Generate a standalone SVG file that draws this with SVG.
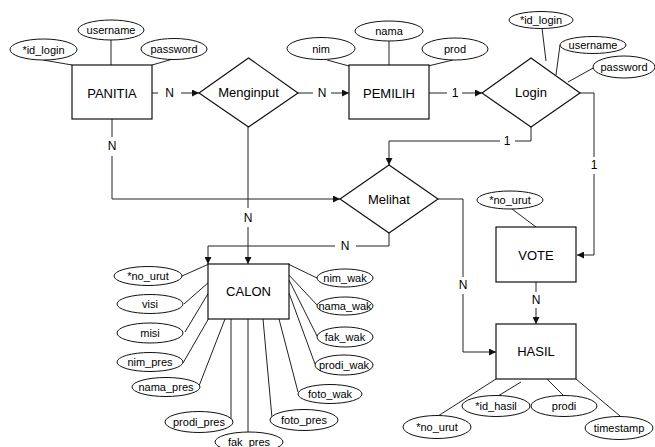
<svg xmlns="http://www.w3.org/2000/svg" width="655" height="447" viewBox="0 0 655 447">
<defs>
<style>
.ent{fill:#fff;stroke:#111;stroke-width:1.2}
.rel{fill:#fff;stroke:#111;stroke-width:1.2}
.att{fill:#fff;stroke:#111;stroke-width:1}
.ln{fill:none;stroke:#222;stroke-width:1}
.t{font-family:"Liberation Sans",Arial,sans-serif;font-size:13px;fill:#000;text-anchor:middle;dominant-baseline:central}
.a{font-family:"Liberation Sans",Arial,sans-serif;font-size:11px;fill:#000;text-anchor:middle;dominant-baseline:central}
.c{font-family:"Liberation Sans",Arial,sans-serif;font-size:12px;fill:#000;text-anchor:middle;dominant-baseline:central}
</style>
<marker id="arr" viewBox="0 0 10 10" refX="10" refY="5" markerWidth="7" markerHeight="7" markerUnits="userSpaceOnUse" orient="auto">
<path d="M0,0 L10,5 L0,10 Z" fill="#111"/>
</marker>
</defs>
<rect width="655" height="447" fill="#fff"/>

<g id="attr-lines">
<path class="ln" d="M43,60 L72,65 M111,39 V65 M173,59 L152,65"/>
<path class="ln" d="M327,60 L349,66 M389,41 V65 M453,60 L428,66"/>
<path class="ln" d="M542,28 L546,61 M560,45 L556,75 M595,67 L568,82"/>
<path class="ln" d="M512,209 L536,227"/>
<path class="ln" d="M438,416 L496,379 M498,396 L521,382 M564,396 L547,379 M620,416 L576,379"/>
<path class="ln" d="M182,276 L209,264 M184,304 L209,282 M185,332 L209,292 M183,363 L209,318 M199,386 L225,319 M231,420 L231,319 M248,432 L248,319 M272,418 L263,319 M298,392 L279,319 M315,364 L289,293 M317,336 L289,280 M318,306 L287,273 M317,278 L288,264"/>
</g>

<g id="connectors">
<path class="ln" d="M152,93 H158"/>
<path class="ln" d="M181,93 H199" marker-end="url(#arr)"/>
<text class="c" x="169.5" y="93">N</text>
<path class="ln" d="M298,93 H313"/>
<path class="ln" d="M331,93 H349" marker-end="url(#arr)"/>
<text class="c" x="322" y="93">N</text>
<path class="ln" d="M429,93 H447"/>
<path class="ln" d="M462,93 H482" marker-end="url(#arr)"/>
<text class="c" x="455" y="93">1</text>
<path class="ln" d="M580,93 H594 V157"/>
<path class="ln" d="M594,174 V255 H577" marker-end="url(#arr)"/>
<text class="c" x="594" y="165">1</text>
<path class="ln" d="M531,127 V141 H515"/>
<path class="ln" d="M500,141 H389 V165" marker-end="url(#arr)"/>
<text class="c" x="507" y="141">1</text>
<path class="ln" d="M112,119 V137"/>
<path class="ln" d="M112,156 V199 H340" marker-end="url(#arr)"/>
<text class="c" x="112" y="146">N</text>
<path class="ln" d="M248,127 V208"/>
<path class="ln" d="M248,227 V264" marker-end="url(#arr)"/>
<text class="c" x="248" y="218">N</text>
<path class="ln" d="M389,233 V246 H356"/>
<path class="ln" d="M335,246 H208 V264" marker-end="url(#arr)"/>
<text class="c" x="345" y="246">N</text>
<path class="ln" d="M438,199 H463 V277"/>
<path class="ln" d="M463,294 V352 H496" marker-end="url(#arr)"/>
<text class="c" x="463" y="285">N</text>
<path class="ln" d="M536,282 V292"/>
<path class="ln" d="M536,308 V324" marker-end="url(#arr)"/>
<text class="c" x="536" y="300">N</text>
</g>

<g id="PANITIA"><rect class="ent" x="72" y="65" width="80" height="54"/><text class="t" x="112" y="93">PANITIA</text></g>
<g id="PEMILIH"><rect class="ent" x="349" y="65" width="80" height="54"/><text class="t" x="389" y="93">PEMILIH</text></g>
<g id="CALON"><rect class="ent" x="208" y="264" width="81" height="55"/><text class="t" x="248.5" y="291">CALON</text></g>
<g id="VOTE"><rect class="ent" x="496" y="227" width="80" height="55"/><text class="t" x="536" y="255">VOTE</text></g>
<g id="HASIL"><rect class="ent" x="496" y="324" width="80" height="55"/><text class="t" x="536" y="351">HASIL</text></g>

<g id="Menginput"><path class="rel" d="M199,93 L248.5,58 L298,93 L248.5,127 Z"/><text class="t" x="248.5" y="92">Menginput</text></g>
<g id="Login"><path class="rel" d="M482,93 L531,58 L580,93 L531,127 Z"/><text class="t" x="531" y="92">Login</text></g>
<g id="Melihat"><path class="rel" d="M340,199 L389,165 L438,199 L389,233 Z"/><text class="t" x="389" y="199">Melihat</text></g>

<g id="panitia-attrs">
<ellipse class="att" cx="43.5" cy="49.5" rx="33.5" ry="10.5"/><text class="a" x="43.5" y="49.5">*id_login</text>
<ellipse class="att" cx="111" cy="30" rx="33" ry="10"/><text class="a" x="111" y="30">username</text>
<ellipse class="att" cx="174" cy="49" rx="33" ry="10.5"/><text class="a" x="174" y="49">password</text>
</g>
<g id="pemilih-attrs">
<ellipse class="att" cx="321" cy="48.5" rx="34" ry="11"/><text class="a" x="321" y="48.5">nim</text>
<ellipse class="att" cx="389" cy="31" rx="34" ry="10"/><text class="a" x="389" y="31">nama</text>
<ellipse class="att" cx="455" cy="49" rx="33" ry="11"/><text class="a" x="455" y="49">prod</text>
</g>
<g id="login-attrs">
<ellipse class="att" cx="541" cy="20" rx="32" ry="8.5"/><text class="a" x="541" y="20">*id_login</text>
<ellipse class="att" cx="593" cy="45" rx="33" ry="8.5"/><text class="a" x="593" y="45">username</text>
<ellipse class="att" cx="624" cy="67" rx="31" ry="11"/><text class="a" x="624" y="67">password</text>
</g>
<g id="vote-attrs">
<ellipse class="att" cx="510" cy="200" rx="33" ry="9"/><text class="a" x="510" y="200">*no_urut</text>
</g>
<g id="hasil-attrs">
<ellipse class="att" cx="437" cy="427" rx="34" ry="11.5"/><text class="a" x="437" y="427">*no_urut</text>
<ellipse class="att" cx="496" cy="406" rx="34" ry="10.5"/><text class="a" x="496" y="406">*id_hasil</text>
<ellipse class="att" cx="564" cy="406" rx="33" ry="10.5"/><text class="a" x="564" y="406">prodi</text>
<ellipse class="att" cx="619" cy="428" rx="34" ry="11.5"/><text class="a" x="619" y="428">timestamp</text>
</g>
<g id="calon-attrs">
<ellipse class="att" cx="148" cy="276" rx="34" ry="9.5"/><text class="a" x="148" y="276">*no_urut</text>
<ellipse class="att" cx="150" cy="304" rx="33" ry="9.5"/><text class="a" x="150" y="304">visi</text>
<ellipse class="att" cx="150" cy="333" rx="33" ry="10"/><text class="a" x="150" y="333">misi</text>
<ellipse class="att" cx="150" cy="362" rx="33" ry="9.5"/><text class="a" x="150" y="362">nim_pres</text>
<ellipse class="att" cx="166" cy="387" rx="34" ry="9.5"/><text class="a" x="166" y="387">nama_pres</text>
<ellipse class="att" cx="199" cy="422" rx="34" ry="10.5"/><text class="a" x="199" y="422">prodi_pres</text>
<ellipse class="att" cx="249" cy="442" rx="34" ry="10"/><text class="a" x="249" y="442">fak_pres</text>
<ellipse class="att" cx="304" cy="420" rx="34" ry="10.5"/><text class="a" x="304" y="420">foto_pres</text>
<ellipse class="att" cx="330" cy="394" rx="32" ry="9.5"/><text class="a" x="330" y="394">foto_wak</text>
<ellipse class="att" cx="344" cy="365" rx="29" ry="10"/><text class="a" x="344" y="365">prodi_wak</text>
<ellipse class="att" cx="345" cy="337" rx="28" ry="10"/><text class="a" x="345" y="337">fak_wak</text>
<ellipse class="att" cx="345" cy="306" rx="28" ry="9"/><text class="a" x="345" y="306">nama_wak</text>
<ellipse class="att" cx="345" cy="278" rx="28" ry="9"/><text class="a" x="345" y="278">nim_wak</text>
</g>
</svg>
